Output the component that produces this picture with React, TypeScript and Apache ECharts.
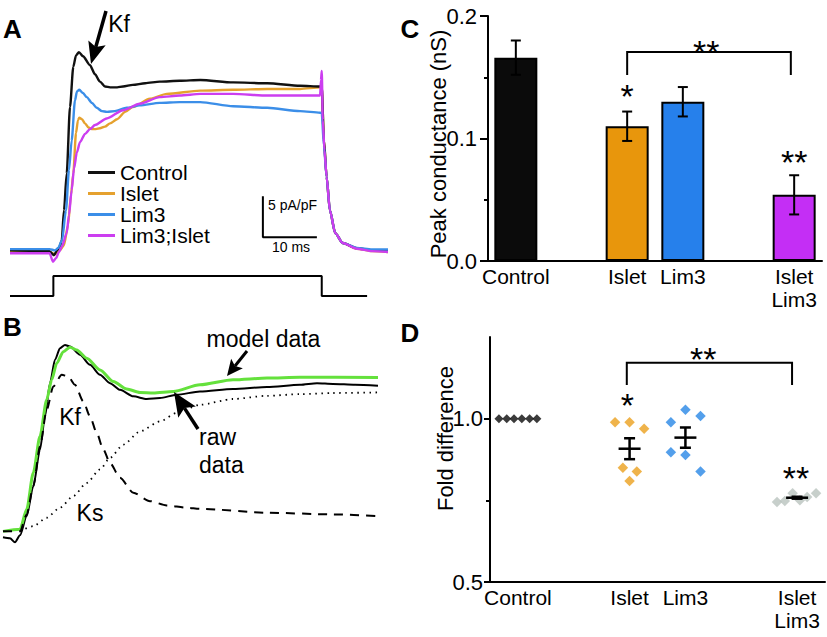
import React, { useEffect, useRef } from "react";
import * as echarts from "echarts";

const FONT = '"Liberation Sans", Arial, Helvetica, sans-serif';
const INK = "#000000";

// ---------------- Panel A : current traces (t in ms, I in pA/pF)
const traceNames = ["Control", "Islet", "Lim3", "Lim3;Islet"];
const traceColors = ["#111111", "#E5A12E", "#3B8EE8", "#CC3EF0"];

const controlTrace = [
  [-8.33, 0.1], [-1.0, 0.0], [-0.2, -0.5], [0.4, 0.1], [0.9, 0.6], [1.25, 1.3], [1.67, 5.0], [2.17, 9.5],
  [2.78, 17.6], [3.39, 22.5], [3.89, 23.9], [4.44, 24.3], [5.19, 23.8], [6.48, 22.7], [7.41, 21.6], [8.33, 20.7],
  [9.26, 20.1], [10.2, 20.0], [11.5, 20.0], [12.6, 20.1], [14.4, 20.3], [16.7, 20.5], [19.4, 20.7], [23.1, 20.8],
  [26.9, 20.9], [33.0, 20.6], [39.3, 20.5], [45.4, 20.2], [49.1, 20.1], [49.4, 20.1], [49.8, 13.6], [50.3, 9.1],
  [50.9, 5.0], [51.9, 2.2], [53.3, 1.0], [55.9, 0.37], [58.7, 0.12], [61.67, 0.06],
];
const isletTrace = [
  [-8.33, -0.1], [-1.0, -0.1], [0, -0.37], [0.93, 0.12], [1.67, 0.73], [2.41, 3.17], [2.96, 6.84], [3.39, 9.5],
  [3.89, 14.4], [4.26, 16.0], [4.5, 16.3], [5.0, 16.1], [5.56, 15.6], [6.2, 15.1], [6.8, 14.9], [7.59, 14.9],
  [8.33, 15.0], [9.26, 15.2], [10.2, 15.6], [11.5, 16.1], [13.0, 17.0], [14.4, 17.6], [17.6, 18.6], [20.7, 19.2],
  [26.9, 19.6], [33.0, 19.7], [39.3, 19.8], [45.4, 19.8], [49.1, 20.0], [49.4, 20.0], [49.8, 13.6], [50.3, 9.1],
  [50.9, 5.0], [51.9, 2.2], [53.3, 1.0], [55.9, 0.3], [58.7, 0.0], [61.67, -0.1],
];
const lim3Trace = [
  [-8.33, 0.25], [-1.0, 0.25], [0, 0.1], [0.56, 0.37], [1.3, 1.3], [2.04, 5.0], [2.59, 9.9], [3.09, 13.5],
  [3.7, 18.4], [4.07, 19.5], [4.5, 19.7], [5.19, 19.3], [5.87, 18.8], [6.85, 18.1], [7.72, 17.5], [8.7, 17.1],
  [9.63, 17.0], [11.1, 17.1], [13.3, 17.5], [15.7, 17.8], [19.4, 18.1], [23.1, 18.2], [26.9, 18.2], [33.0, 17.7],
  [39.3, 17.5], [45.4, 17.1], [49.1, 16.9], [49.4, 16.85], [49.8, 12.9], [50.3, 9.1], [50.9, 5.0], [51.9, 2.2],
  [53.3, 1.0], [55.9, 0.4], [58.7, 0.2], [61.67, 0.2],
];
const lim3IsletTrace = [
  [-8.33, -0.25], [-1.0, -0.25], [-0.37, -1.3], [0.19, -0.85], [0.74, -0.1], [1.3, 0.6], [2.17, 2.2], [2.59, 4.4],
  [3.09, 7.45], [3.52, 10.1], [4.07, 12.1], [4.63, 13.3], [5.56, 14.3], [6.48, 14.9], [7.41, 15.4], [9.57, 16.2],
  [12.6, 17.2], [15.7, 18.0], [19.4, 18.8], [23.1, 19.0], [26.9, 19.2], [33.0, 19.2], [39.3, 19.0], [45.4, 19.0],
  [49.1, 19.0], [49.26, 20.9], [49.4, 22.0], [49.6, 16.0], [49.9, 12.3], [50.3, 9.1], [50.9, 5.0], [51.9, 2.2],
  [53.3, 1.0], [55.9, 0.3], [58.7, 0.0], [61.67, -0.1],
];
const stepTrace = [[-8.33, 0], [-0.3, 0], [-0.3, 1], [49.4, 1], [49.4, 0], [57.8, 0]];
const scaleBar = [[38.5, 6.7], [38.5, 1.7], [48.5, 1.7]]; // 5 pA/pF by 10 ms

// ---------------- Panel B : normalised model fit
const rawTrace = [
  [-1.7, -0.032], [-1.0, -0.037], [-0.5, -0.059], [0, -0.021], [0.67, 0.082], [1.33, 0.242], [2.0, 0.439],
  [2.5, 0.617], [3.0, 0.795], [3.5, 0.92], [4.0, 0.982], [4.5, 1.0], [5.0, 0.991], [6.0, 0.947], [7.0, 0.893],
  [8.0, 0.84], [9.0, 0.795], [10.0, 0.759], [11.33, 0.724], [12.67, 0.71], [14.0, 0.715], [15.67, 0.733],
  [18.0, 0.75], [21.3, 0.763], [24.7, 0.774], [28.0, 0.786], [29.7, 0.795], [31.3, 0.791], [33.5, 0.786], [35.8, 0.781],
];
const modelTrace = [
  [-1.7, 0.0], [0, 0.011], [0.67, 0.118], [1.33, 0.314], [2.0, 0.51], [2.67, 0.706], [3.17, 0.813], [3.67, 0.902],
  [4.33, 0.964], [5.0, 0.988], [5.67, 0.973], [6.67, 0.929], [8.0, 0.866], [9.33, 0.804], [10.67, 0.763],
  [12.0, 0.745], [13.33, 0.742], [15.33, 0.75], [18.0, 0.786], [21.3, 0.813], [24.7, 0.822], [28.0, 0.827], [35.8, 0.825],
];
const kfTrace = [
  [-1.7, 0.0], [0, 0.0], [0.67, 0.091], [1.33, 0.242], [2.0, 0.456], [2.67, 0.652], [3.33, 0.777], [4.17, 0.84],
  [4.83, 0.83], [5.5, 0.786], [6.33, 0.697], [7.0, 0.617], [7.67, 0.528], [8.33, 0.439], [9.0, 0.367], [10.0, 0.287],
  [11.33, 0.207], [13.0, 0.162], [14.67, 0.139], [16.67, 0.127], [18.0, 0.121], [24.7, 0.1], [31.3, 0.091], [35.8, 0.082],
];
const ksTrace = [
  [0, 0.0], [1.33, 0.028], [2.67, 0.073], [4.0, 0.127], [5.33, 0.189], [6.67, 0.26], [8.0, 0.332], [9.0, 0.394],
  [10.33, 0.465], [12.0, 0.536], [14.0, 0.59], [15.67, 0.635], [18.0, 0.679], [21.3, 0.71], [24.7, 0.727],
  [28.0, 0.736], [31.3, 0.742], [35.8, 0.745],
];

// ---------------- Panels C & D : groups
const groupX = [0.5, 2.5, 3.5, 5.5];
const groupLabels = ["Control", "Islet", "Lim3", "Islet\nLim3"];
const barColors = ["#0b0b0b", "#E8960C", "#2680EB", "#C42EF5"];
const conductanceMean = [0.166, 0.11, 0.13, 0.054];
const conductanceSem = [0.014, 0.012, 0.012, 0.016];

const controlFold = [[0.16, 1.0], [0.3, 1.0], [0.43, 1.0], [0.57, 1.0], [0.71, 1.0], [0.84, 1.0]];
const isletFold = [[2.24, 0.989], [2.5, 0.989], [2.76, 0.969], [2.38, 0.85], [2.63, 0.838], [2.5, 0.809]];
const lim3Fold = [[3.24, 0.989], [3.5, 1.027], [3.77, 1.008], [3.24, 0.897], [3.5, 0.889], [3.77, 0.838]];
const isletLim3Fold = [[5.14, 0.745], [5.28, 0.748], [5.42, 0.772], [5.55, 0.75], [5.68, 0.76], [5.84, 0.772]];
const foldMeanX = [2.5, 3.5, 5.5];
const foldMean = [0.908, 0.942, 0.758];
const foldSem = [0.032, 0.031, 0.003];
const foldColors = ["#0a0a0a", "#EBA01E", "#2887E6", "#B9C3BE"];

// significance annotations [x1, x2, top, leg]
const bracketC = [[2.5, 5.44, 0.1706, 0.1518]];
const starsC = [[3.92, 0.171, "**"], [2.5, 0.1343, "*"], [5.5, 0.0812, "**"]];
const bracketD = [[2.45, 5.41, 1.171, 1.103]];
const starsD = [[3.82, 1.1826, "**"], [2.46, 1.0418, "*"], [5.48, 0.8183, "**"]];

const groupFormatter = (v: number) => {
  const i = groupX.findIndex((g) => Math.abs(g - v) < 1e-6);
  return i >= 0 ? groupLabels[i] : "";
};

const hiddenAxis = (gridIndex: number, min: number, max: number) => ({
  type: "value", gridIndex, min, max, show: false, splitLine: { show: false },
});

const groupAxis = (gridIndex: number) => ({
  type: "value", gridIndex, min: 0, max: 6, interval: 0.5,
  axisLine: { show: true, onZero: false, lineStyle: { color: INK, width: 2 } },
  axisTick: { show: false }, splitLine: { show: false },
  axisLabel: {
    show: true, margin: 4, fontSize: 21, lineHeight: 23, color: INK, fontFamily: FONT,
    formatter: groupFormatter, showMinLabel: true, showMaxLabel: true,
  },
});

const lineSeries = (name: string, data: number[][], color: string, idx: number, width: number, extra: any = {}, smooth: any = 0.25) => ({
  type: "line", name, data, xAxisIndex: idx, yAxisIndex: idx, showSymbol: false, symbol: "none",
  smooth, smoothMonotone: "x", silent: true,
  lineStyle: { color, width, ...extra }, itemStyle: { color },
});

const bracketSeries = (xi: number, yi: number, items: any[]) => ({
  type: "custom", xAxisIndex: xi, yAxisIndex: yi, silent: true, z: 6,
  data: items.map((b) => [b[0], b[2]]),
  renderItem: (params: any, api: any) => {
    const b = items[params.dataIndex];
    const p1 = api.coord([b[0], b[3]]);
    const p2 = api.coord([b[0], b[2]]);
    const p3 = api.coord([b[1], b[2]]);
    const p4 = api.coord([b[1], b[3]]);
    return { type: "polyline", shape: { points: [p1, p2, p3, p4] }, style: { stroke: INK, lineWidth: 2, fill: "none" } };
  },
});

const starSeries = (xi: number, yi: number, items: any[]) => ({
  type: "custom", xAxisIndex: xi, yAxisIndex: yi, silent: true, z: 6,
  data: items.map((s) => [s[0], s[1]]),
  renderItem: (params: any, api: any) => {
    const s = items[params.dataIndex];
    const p = api.coord([s[0], s[1]]);
    return {
      type: "text", x: p[0], y: p[1],
      style: { text: s[2], fontSize: 34, fontFamily: FONT, fill: INK, align: "center", verticalAlign: "middle" },
    };
  },
});

const gText = (text: string, x: number, y: number, size: number, opts: any = {}) => ({
  type: "text", x, y, rotation: opts.rotation || 0, silent: true, z: 10,
  style: {
    text, fontSize: size, fontFamily: FONT, fontWeight: opts.bold ? "bold" : "normal", fill: INK,
    align: opts.align || "center", verticalAlign: "middle",
  },
});

const arrow = (x1: number, y1: number, x2: number, y2: number, headLen: number, headW: number, lw: number) => {
  const dx = x2 - x1, dy = y2 - y1, L = Math.hypot(dx, dy);
  const ux = dx / L, uy = dy / L;
  const bx = x2 - ux * headLen, by = y2 - uy * headLen;
  const px = -uy, py = ux;
  const nx = bx + ux * headLen * 0.2, ny = by + uy * headLen * 0.2;
  return [
    { type: "line", silent: true, z: 10, shape: { x1, y1, x2: nx, y2: ny }, style: { stroke: INK, lineWidth: lw } },
    {
      type: "polygon", silent: true, z: 10,
      shape: { points: [[x2, y2], [bx + (px * headW) / 2, by + (py * headW) / 2], [nx, ny], [bx - (px * headW) / 2, by - (py * headW) / 2]] },
      style: { fill: INK },
    },
  ];
};

export default function App() {
  const ref = useRef<HTMLDivElement>(null);
  useEffect(() => {
    if (!ref.current) return;
    const chart = echarts.init(ref.current, null, { renderer: "svg" });
    const traces = [controlTrace, isletTrace, lim3Trace, lim3IsletTrace];
    const drawOrder = [1, 0, 2, 3];
    const option: any = {
      animation: false,
      backgroundColor: "#ffffff",
      textStyle: { fontFamily: FONT },
      legend: {
        data: traceNames, orient: "vertical", left: 88, top: 162, padding: 0, itemGap: 0,
        itemWidth: 27, itemHeight: 3, icon: "rect", selectedMode: false,
        textStyle: { fontSize: 21, lineHeight: 20, color: INK, fontFamily: FONT },
      },
      grid: [
        { left: 10, top: 30, width: 378, height: 240, outerBoundsMode: "none" },
        { left: 10, top: 270, width: 378, height: 30, outerBoundsMode: "none" },
        { left: 0, top: 330, width: 380, height: 220, outerBoundsMode: "none" },
        { left: 488, top: 16, width: 334, height: 245, outerBoundsMode: "none" },
        { left: 490, top: 337, width: 335, height: 245, outerBoundsMode: "none" },
      ],
      xAxis: [
        hiddenAxis(0, -8.33, 61.67),
        hiddenAxis(1, -8.33, 61.67),
        hiddenAxis(2, -2, 36),
        groupAxis(3),
        groupAxis(4),
      ],
      yAxis: [
        hiddenAxis(0, -2.3, 27),
        hiddenAxis(1, -0.2, 1.3),
        hiddenAxis(2, -0.1, 1.08),
        {
          type: "value", gridIndex: 3, min: 0, max: 0.2, interval: 0.1, position: "left",
          axisLine: { show: true, lineStyle: { color: INK, width: 2 } },
          axisTick: { show: true, length: 8, lineStyle: { color: INK, width: 2 } },
          minorTick: { show: true, splitNumber: 2, length: 4, lineStyle: { color: INK, width: 2 } },
          axisLabel: { show: true, margin: 11, fontSize: 22, color: INK, fontFamily: FONT, formatter: (v: number) => v.toFixed(1) },
          splitLine: { show: false }, minorSplitLine: { show: false },
        },
        {
          type: "value", gridIndex: 4, min: 0.5, max: 1.25, interval: 0.25, position: "left",
          axisLine: { show: true, lineStyle: { color: INK, width: 2 } },
          axisTick: { show: true, length: 6, customValues: [0.5, 1.0], lineStyle: { color: INK, width: 2 } },
          axisLabel: {
            show: true, margin: 7, fontSize: 22, color: INK, fontFamily: FONT, customValues: [0.5, 1.0],
            formatter: (v: number) => (Math.abs(v - 0.5) < 1e-6 || Math.abs(v - 1) < 1e-6 ? v.toFixed(1) : ""),
          },
          splitLine: { show: false },
        },
        {
          type: "value", gridIndex: 4, min: 0.5, max: 1.25, position: "left",
          axisLine: { show: false }, axisLabel: { show: false }, splitLine: { show: false },
          axisTick: { show: true, length: 4, customValues: [0.75], lineStyle: { color: INK, width: 2 } },
        },
      ],
      series: [
        // Panel A
        ...drawOrder.map((i) => lineSeries(traceNames[i], traces[i], traceColors[i], 0, 2.4)),
        { ...lineSeries("scale", scaleBar, INK, 0, 2, {}, false) },
        { ...lineSeries("step", stepTrace, INK, 1, 2, {}, false) },
        // Panel B
        lineSeries("raw data", rawTrace, INK, 2, 2),
        lineSeries("model data", modelTrace, "#64E13C", 2, 3),
        lineSeries("Kf", kfTrace, INK, 2, 2, { type: [9, 7] }),
        lineSeries("Ks", ksTrace, INK, 2, 1.8, { type: [1.5, 4.5] }),
        // Panel C
        {
          type: "bar", xAxisIndex: 3, yAxisIndex: 3, barWidth: 43, silent: true,
          data: groupX.map((x, i) => ({
            value: [x, conductanceMean[i]],
            itemStyle: { color: barColors[i], borderColor: INK, borderWidth: 2 },
          })),
        },
        {
          type: "custom", xAxisIndex: 3, yAxisIndex: 3, silent: true, z: 5,
          data: groupX.map((x, i) => [x, conductanceMean[i], conductanceSem[i]]),
          renderItem: (params: any, api: any) => {
            const x = api.value(0), m = api.value(1), s = api.value(2);
            const t = api.coord([x, m + s]);
            const b = api.coord([x, m - s]);
            const st = { stroke: INK, lineWidth: 2 };
            return {
              type: "group",
              children: [
                { type: "line", shape: { x1: t[0], y1: t[1], x2: b[0], y2: b[1] }, style: st },
                { type: "line", shape: { x1: t[0] - 5, y1: t[1], x2: t[0] + 5, y2: t[1] }, style: st },
                { type: "line", shape: { x1: b[0] - 5, y1: b[1], x2: b[0] + 5, y2: b[1] }, style: st },
              ],
            };
          },
        },
        bracketSeries(3, 3, bracketC),
        starSeries(3, 3, starsC),
        // Panel D
        ...[controlFold, isletFold, lim3Fold, isletLim3Fold].map((d, i) => ({
          type: "scatter", xAxisIndex: 4, yAxisIndex: 4, data: d, symbol: "diamond",
          symbolSize: i === 0 ? 9 : 10.5, silent: true, itemStyle: { color: foldColors[i] },
        })),
        {
          type: "custom", xAxisIndex: 4, yAxisIndex: 4, silent: true, z: 5,
          data: foldMeanX.map((x, i) => [x, foldMean[i], foldSem[i]]),
          renderItem: (params: any, api: any) => {
            const x = api.value(0), m = api.value(1), s = api.value(2);
            const c = api.coord([x, m]);
            const t = api.coord([x, m + s]);
            const b = api.coord([x, m - s]);
            const st = { stroke: INK, lineWidth: 2.5 };
            return {
              type: "group",
              children: [
                { type: "line", shape: { x1: c[0] - 11, y1: c[1], x2: c[0] + 11, y2: c[1] }, style: st },
                { type: "line", shape: { x1: t[0], y1: t[1], x2: b[0], y2: b[1] }, style: st },
                { type: "line", shape: { x1: t[0] - 5.5, y1: t[1], x2: t[0] + 5.5, y2: t[1] }, style: st },
                { type: "line", shape: { x1: b[0] - 5.5, y1: b[1], x2: b[0] + 5.5, y2: b[1] }, style: st },
              ],
            };
          },
        },
        bracketSeries(4, 4, bracketD),
        starSeries(4, 4, starsD),
      ],
      graphic: [
        gText("A", 12.5, 28.6, 26, { bold: true }),
        gText("B", 12.5, 327, 26, { bold: true }),
        gText("C", 410, 28.6, 26, { bold: true }),
        gText("D", 410, 333, 26, { bold: true }),
        gText("Kf", 119, 23.7, 23),
        ...arrow(106, 11, 91, 64, 22, 18, 3.5),
        gText("5 pA/pF", 268, 205, 14, { align: "left" }),
        gText("10 ms", 291, 247, 14),
        gText("model data", 263.5, 338.7, 23),
        ...arrow(247, 351, 227, 376, 16, 15, 3),
        gText("Kf", 70, 417, 23),
        gText("Ks", 90, 512.7, 23),
        gText("raw", 199, 437, 23, { align: "left" }),
        gText("data", 199, 465, 23, { align: "left" }),
        ...arrow(198, 429, 174, 392, 24, 21, 3.5),
        gText("Peak conductance (nS)", 438, 144, 22, { rotation: Math.PI / 2 }),
        gText("Fold difference", 445, 438.5, 22, { rotation: Math.PI / 2 }),
      ],
    };
    chart.setOption(option);
    return () => chart.dispose();
  }, []);
  return <div ref={ref} style={{ position: "fixed", left: 0, top: 0, width: 827, height: 637, background: "#fff" }} />;
}
